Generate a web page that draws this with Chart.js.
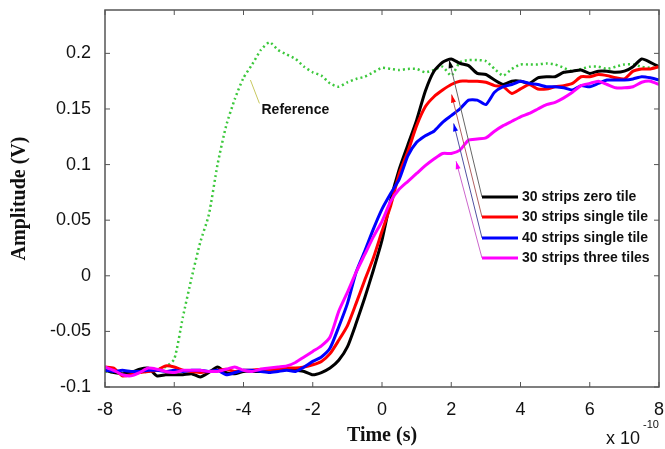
<!DOCTYPE html>
<html>
<head>
<meta charset="utf-8">
<script src="https://cdn.jsdelivr.net/npm/chart.js@4.4.1/dist/chart.umd.min.js"></script>
<style>
  html, body { margin: 0; padding: 0; background: #fff; }
</style>
</head>
<body>
<canvas id="grafico" width="665" height="449"></canvas>
<script>
// tiempo en unidades de 1e-10 s
const tiempo = [-8, -7.75, -7.5, -7.25, -7, -6.75, -6.5, -6.25, -6, -5.75, -5.5, -5.25, -5, -4.75, -4.5, -4.25,
  -4, -3.75, -3.5, -3.25, -3, -2.75, -2.5, -2.25, -2, -1.75, -1.5, -1.25, -1, -0.75, -0.5, -0.25,
  0, 0.25, 0.5, 0.75, 1, 1.25, 1.5, 1.75, 2, 2.25, 2.5, 2.75, 3, 3.25, 3.5, 3.75,
  4, 4.25, 4.5, 4.75, 5, 5.25, 5.5, 5.75, 6, 6.25, 6.5, 6.75, 7, 7.25, 7.5, 7.75, 8];

const ceroTile = [-0.085, -0.087, -0.088, -0.087, -0.084, -0.083, -0.090, -0.089, -0.089, -0.089, -0.088, -0.091, -0.087, -0.082, -0.087, -0.088,
  -0.086, -0.086, -0.086, -0.086, -0.085, -0.084, -0.085, -0.086, -0.089, -0.087, -0.083, -0.076, -0.064, -0.043, -0.020, 0.005,
  0.032, 0.068, 0.096, 0.118, 0.140, 0.166, 0.184, 0.192, 0.195, 0.191, 0.189, 0.182, 0.181, 0.176, 0.172, 0.175,
  0.175, 0.173, 0.178, 0.179, 0.179, 0.183, 0.184, 0.185, 0.182, 0.184, 0.184, 0.183, 0.184, 0.188, 0.195, 0.192, 0.188];

const unTile30 = [-0.082, -0.083, -0.090, -0.089, -0.087, -0.086, -0.085, -0.081, -0.082, -0.085, -0.086, -0.087, -0.086, -0.085, -0.084, -0.086,
  -0.085, -0.085, -0.084, -0.085, -0.084, -0.083, -0.083, -0.082, -0.080, -0.077, -0.070, -0.058, -0.045, -0.025, -0.004, 0.016,
  0.040, 0.063, 0.092, 0.112, 0.135, 0.152, 0.161, 0.167, 0.172, 0.175, 0.175, 0.175, 0.174, 0.171, 0.170, 0.164,
  0.168, 0.172, 0.168, 0.168, 0.170, 0.171, 0.173, 0.179, 0.179, 0.181, 0.180, 0.178, 0.177, 0.184, 0.186, 0.186, 0.188];

const unTile40 = [-0.085, -0.086, -0.085, -0.086, -0.086, -0.085, -0.085, -0.086, -0.085, -0.086, -0.085, -0.085, -0.086, -0.085, -0.089, -0.087,
  -0.085, -0.085, -0.086, -0.087, -0.086, -0.085, -0.086, -0.082, -0.077, -0.073, -0.065, -0.046, -0.025, 0.003, 0.022, 0.042,
  0.060, 0.074, 0.087, 0.108, 0.120, 0.126, 0.130, 0.138, 0.144, 0.150, 0.158, 0.158, 0.154, 0.165, 0.170, 0.172,
  0.175, 0.173, 0.172, 0.170, 0.170, 0.169, 0.167, 0.171, 0.170, 0.173, 0.176, 0.176, 0.176, 0.177, 0.179, 0.178, 0.176];

const tresTiles = [-0.082, -0.085, -0.089, -0.090, -0.087, -0.083, -0.084, -0.086, -0.087, -0.085, -0.085, -0.085, -0.086, -0.086, -0.084, -0.082,
  -0.085, -0.086, -0.084, -0.083, -0.082, -0.081, -0.078, -0.073, -0.068, -0.063, -0.055, -0.032, -0.015, 0.003, 0.019, 0.035,
  0.049, 0.067, 0.078, 0.085, 0.092, 0.099, 0.105, 0.110, 0.110, 0.113, 0.122, 0.123, 0.124, 0.130, 0.135, 0.139,
  0.143, 0.146, 0.150, 0.154, 0.156, 0.160, 0.165, 0.171, 0.173, 0.175, 0.172, 0.169, 0.169, 0.170, 0.174, 0.175, 0.172];

const referencia = [-0.086, -0.087, -0.088, -0.087, -0.087, -0.086, -0.084, -0.082, -0.075, -0.037, -0.002, 0.030, 0.055, 0.100, 0.135, 0.159,
  0.178, 0.190, 0.203, 0.210, 0.203, 0.199, 0.195, 0.188, 0.183, 0.180, 0.173, 0.170, 0.174, 0.177, 0.179, 0.183,
  0.187, 0.186, 0.185, 0.186, 0.186, 0.183, 0.185, 0.188, 0.180, 0.192, 0.194, 0.194, 0.193, 0.186, 0.180, 0.186,
  0.190, 0.190, 0.190, 0.191, 0.190, 0.187, 0.184, 0.186, 0.188, 0.188, 0.186, 0.188, 0.190, 0.190, 0.188, 0.187, 0.188];

const nombres = ["30 strips zero tile", "30 strips single tile", "40 strips single tile", "30 strips three tiles"];
const xTicks = [-8, -6, -4, -2, 0, 2, 4, 6, 8];
const yTicks = [-0.1, -0.05, 0, 0.05, 0.1, 0.15, 0.2];
const yTickLabels = ["-0.1", "-0.05", "0", "0.05", "0.1", "0.15", "0.2"];

// puntas de las flechas (en unidades de los datos)
const puntasFlechas = [[1.94, 0.194], [2.01, 0.163], [2.07, 0.137], [2.14, 0.103]];
const coloresFlechas = ["#666666", "#b06060", "#5050a0", "#cc66cc"];
const colores = ["#000000", "#ff0000", "#0000ff", "#ff00ff"];

function puntos(serie) {
  return tiempo.map((t, i) => ({ x: t, y: serie[i] }));
}

function sinRelleno(s) {
  s.paddingTop = 0;
  s.paddingBottom = 0;
  s.paddingLeft = 0;
  s.paddingRight = 0;
}

const marcoPlugin = {
  id: "marco",
  afterDatasetsDraw(chart) {
    const { ctx, chartArea: a, scales } = chart;
    const x = scales.x, y = scales.y;
    ctx.save();

    // flecha y texto "Reference"
    ctx.strokeStyle = "#c8c860";
    ctx.lineWidth = 1;
    ctx.beginPath();
    ctx.moveTo(x.getPixelForValue(-3.80), y.getPixelForValue(0.176));
    ctx.lineTo(x.getPixelForValue(-3.54), y.getPixelForValue(0.155));
    ctx.stroke();
    ctx.fillStyle = "#111";
    ctx.font = 'bold 14px "Liberation Sans", Arial, sans-serif';
    ctx.textBaseline = "middle";
    ctx.fillText("Reference", x.getPixelForValue(-3.48), y.getPixelForValue(0.149));

    // leyenda con flechas
    const filas = [197, 217, 238, 258];
    const x0 = a.left + 377, x1 = a.left + 413;
    nombres.forEach((nombre, i) => {
      const fy = filas[i];
      const tx = x.getPixelForValue(puntasFlechas[i][0]);
      const ty = y.getPixelForValue(puntasFlechas[i][1]);
      ctx.strokeStyle = coloresFlechas[i];
      ctx.lineWidth = 1;
      ctx.beginPath();
      ctx.moveTo(x0, fy);
      ctx.lineTo(tx, ty);
      ctx.stroke();
      const ang = Math.atan2(ty - fy, tx - x0);
      ctx.fillStyle = colores[i];
      ctx.beginPath();
      ctx.moveTo(tx, ty);
      ctx.lineTo(tx - 8 * Math.cos(ang) + 2.5 * Math.sin(ang), ty - 8 * Math.sin(ang) - 2.5 * Math.cos(ang));
      ctx.lineTo(tx - 8 * Math.cos(ang) - 2.5 * Math.sin(ang), ty - 8 * Math.sin(ang) + 2.5 * Math.cos(ang));
      ctx.closePath();
      ctx.fill();

      ctx.strokeStyle = colores[i];
      ctx.lineWidth = 3;
      ctx.beginPath();
      ctx.moveTo(x0, fy);
      ctx.lineTo(x1, fy);
      ctx.stroke();
      ctx.fillStyle = "#111";
      ctx.fillText(nombre, x1 + 4, fy);
    });

    // marco y marcas hacia dentro
    ctx.strokeStyle = "#555";
    ctx.lineWidth = 1.5;
    ctx.strokeRect(a.left, a.top, a.right - a.left, a.bottom - a.top);
    ctx.lineWidth = 1;
    ctx.beginPath();
    xTicks.forEach(v => {
      const px = x.getPixelForValue(v);
      ctx.moveTo(px, a.bottom); ctx.lineTo(px, a.bottom - 5);
      ctx.moveTo(px, a.top); ctx.lineTo(px, a.top + 5);
    });
    yTicks.forEach(v => {
      const py = y.getPixelForValue(v);
      ctx.moveTo(a.left, py); ctx.lineTo(a.left + 5, py);
      ctx.moveTo(a.right, py); ctx.lineTo(a.right - 5, py);
    });
    ctx.stroke();
    ctx.restore();
  },
  afterDraw(chart) {
    const ctx = chart.ctx;
    ctx.save();
    ctx.fillStyle = "#111";
    ctx.textBaseline = "alphabetic";
    ctx.font = '18px "Liberation Sans", Arial, sans-serif';
    ctx.fillText("x 10", 606, 444);
    ctx.font = '11px "Liberation Sans", Arial, sans-serif';
    ctx.fillText("-10", 643, 428);
    ctx.restore();
  }
};

const ctx = document.getElementById("grafico").getContext("2d");
new Chart(ctx, {
  type: "line",
  data: {
    datasets: [
      { label: nombres[3], data: puntos(tresTiles), borderColor: colores[3], borderWidth: 3, order: 0 },
      { label: nombres[2], data: puntos(unTile40), borderColor: colores[2], borderWidth: 3, order: 1 },
      { label: nombres[1], data: puntos(unTile30), borderColor: colores[1], borderWidth: 3, order: 2 },
      { label: nombres[0], data: puntos(ceroTile), borderColor: colores[0], borderWidth: 3, order: 3 },
      { label: "Reference", data: puntos(referencia), borderColor: "#3cc83c", borderWidth: 2.5, borderDash: [2, 3], order: 4 }
    ]
  },
  options: {
    responsive: false,
    animation: false,
    devicePixelRatio: 1,
    layout: { padding: { left: 0, right: 6, top: 10, bottom: 0 } },
    elements: { point: { radius: 0 }, line: { tension: 0.2, fill: false } },
    plugins: { legend: { display: false }, tooltip: { enabled: false } },
    scales: {
      x: {
        type: "linear",
        min: -8,
        max: 8,
        afterBuildTicks: s => { s.ticks = xTicks.map(v => ({ value: v })); },
        afterFit: s => { s.height = 62; sinRelleno(s); },
        grid: { display: false, drawTicks: false },
        border: { display: false },
        ticks: { color: "#111", padding: 12, maxRotation: 0, font: { family: '"Liberation Sans", Arial, sans-serif', size: 18 } },
        title: {
          display: true,
          text: "Time (s)",
          color: "#111",
          padding: { top: 0, bottom: 1 },
          font: { family: '"Liberation Serif", "Times New Roman", serif', size: 20, weight: "bold" }
        }
      },
      y: {
        min: -0.1,
        max: 0.239,
        afterBuildTicks: s => { s.ticks = yTicks.map(v => ({ value: v })); },
        afterFit: s => { s.width = 105; sinRelleno(s); },
        grid: { display: false, drawTicks: false },
        border: { display: false },
        ticks: {
          color: "#111",
          padding: 14,
          font: { family: '"Liberation Sans", Arial, sans-serif', size: 18 },
          callback: (v, i) => yTickLabels[i]
        },
        title: {
          display: true,
          text: "Amplitude (V)",
          color: "#111",
          padding: { top: 8, bottom: 0 },
          font: { family: '"Liberation Serif", "Times New Roman", serif', size: 20, weight: "bold" }
        }
      }
    }
  },
  plugins: [marcoPlugin]
});
</script>
</body>
</html>
